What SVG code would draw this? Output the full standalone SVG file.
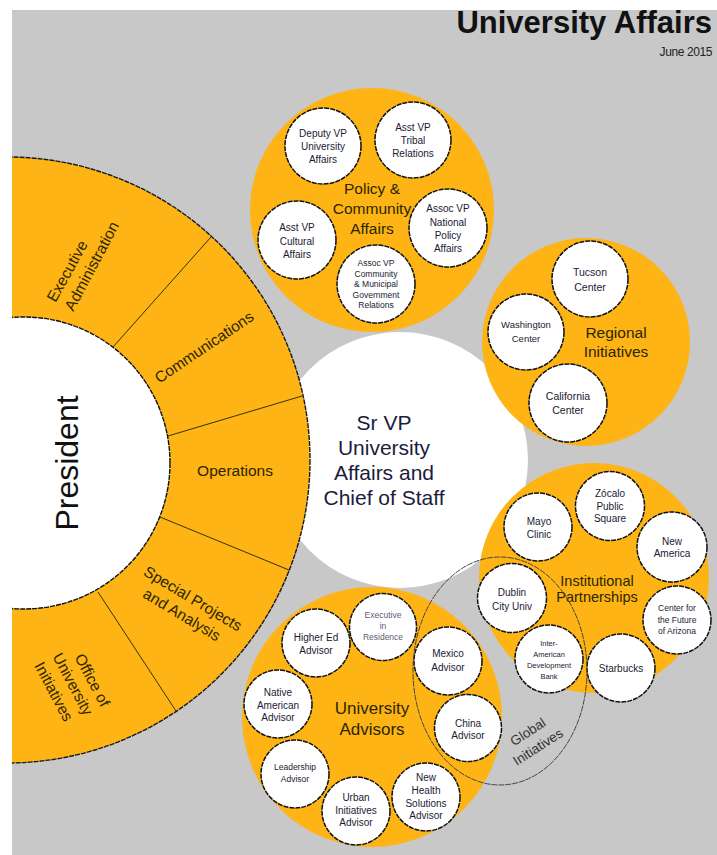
<svg xmlns="http://www.w3.org/2000/svg" width="717" height="855" viewBox="0 0 717 855">
  <defs>
    <clipPath id="page">
      <rect x="12" y="10" width="705" height="845"/>
    </clipPath>
  </defs>
  <style>
    .bg { fill: #c8c8c8; }
    .gold { fill: #fdb414; }
    .ring { fill: #fdb414; stroke: #1a1a1a; stroke-width: 1.4; stroke-dasharray: 5 1; }
    .unit { fill: #ffffff; stroke: #111111; stroke-width: 1.5; stroke-dasharray: 5 1; }
    .div { stroke: #3a3300; stroke-width: 1; fill: none; }
    text { font-family: "Liberation Sans", Arial, sans-serif; text-anchor: middle; }
    .s { font-size: 10px; fill: #1a1a33; }
    .xs { font-size: 8.5px; fill: #1a1a33; }
    .xxs { font-size: 7.5px; fill: #1a1a33; }
    .grey { fill: #606070; }
    .lab { font-size: 15.5px; fill: #2b2600; }
    .seg { font-size: 15.5px; fill: #2b2600; }
  </style>

  <rect x="0" y="0" width="717" height="855" fill="#ffffff"/>
  <rect class="bg" x="12" y="10" width="705" height="845"/>

  <g id="title">
    <text x="712" y="33" style="font-size:31px;font-weight:bold;text-anchor:end;fill:#111">University Affairs</text>
    <text x="712" y="56" style="font-size:12px;text-anchor:end;fill:#222;letter-spacing:-0.4px">June 2015</text>
  </g>

  <g clip-path="url(#page)">
    <!-- Senior VP hub -->
    <g id="sr-vp">
      <circle cx="400" cy="460" r="128" fill="#ffffff"/>
      <text x="384" y="430" style="font-size:21px;fill:#1c1c3c">Sr VP</text>
      <text x="384" y="455" style="font-size:21px;fill:#1c1c3c">University</text>
      <text x="384" y="480" style="font-size:21px;fill:#1c1c3c">Affairs and</text>
      <text x="384" y="505" style="font-size:21px;fill:#1c1c3c">Chief of Staff</text>
    </g>

    <!-- President ring with its offices -->
    <g id="president">
      <circle class="ring" cx="7" cy="460" r="303"/>
      <line class="div" x1="113" y1="347" x2="211" y2="237"/>
      <line class="div" x1="168" y1="436" x2="302" y2="396"/>
      <line class="div" x1="160" y1="517" x2="289" y2="570"/>
      <line class="div" x1="98" y1="592" x2="176" y2="711"/>
      <circle cx="24" cy="463" r="146" fill="#ffffff" stroke="#111" stroke-width="1.4" stroke-dasharray="5 1"/>
      <text transform="translate(67,463) rotate(-90)" y="11" style="font-size:32px;fill:#111">President</text>
      <g id="exec-admin">
        <text class="seg" transform="translate(67,271) rotate(-61)" y="5.5">Executive</text>
        <text class="seg" transform="translate(91.5,266) rotate(-62)" y="5.5">Administration</text>
      </g>
      <g id="communications">
        <text class="seg" transform="translate(204,347) rotate(-34)" y="5.5">Communications</text>
      </g>
      <g id="operations">
        <text class="seg" x="235" y="475.5">Operations</text>
      </g>
      <g id="special-projects">
        <text class="seg" transform="translate(193,598.5) rotate(31)" y="5.5">Special Projects</text>
        <text class="seg" transform="translate(182,614.5) rotate(31)" y="5.5">and Analysis</text>
      </g>
      <g id="univ-initiatives">
        <text class="seg" transform="translate(92.5,680) rotate(62)" y="5.5">Office of</text>
        <text class="seg" transform="translate(73,684) rotate(62)" y="5.5">University</text>
        <text class="seg" transform="translate(54,691.5) rotate(62)" y="5.5">Initiatives</text>
      </g>
    </g>

    <!-- Policy & Community Affairs -->
    <g id="policy">
      <circle class="gold" cx="372" cy="210" r="122"/>
      <text class="lab" x="372" y="194">Policy &amp;</text>
      <text class="lab" x="372" y="214">Community</text>
      <text class="lab" x="372" y="234">Affairs</text>
      <g id="deputy-vp">
        <circle class="unit" cx="323" cy="146" r="38"/>
        <text class="s" x="323" y="137">Deputy VP</text>
        <text class="s" x="323" y="150">University</text>
        <text class="s" x="323" y="163">Affairs</text>
      </g>
      <g id="tribal">
        <circle class="unit" cx="413" cy="140" r="38"/>
        <text class="s" x="413" y="131">Asst VP</text>
        <text class="s" x="413" y="144">Tribal</text>
        <text class="s" x="413" y="157">Relations</text>
      </g>
      <g id="cultural">
        <circle class="unit" cx="297" cy="240" r="39"/>
        <text class="s" x="297" y="231">Asst VP</text>
        <text class="s" x="297" y="245">Cultural</text>
        <text class="s" x="297" y="258">Affairs</text>
      </g>
      <g id="national">
        <circle class="unit" cx="448" cy="228" r="39"/>
        <text class="s" x="448" y="212">Assoc VP</text>
        <text class="s" x="448" y="226">National</text>
        <text class="s" x="448" y="239">Policy</text>
        <text class="s" x="448" y="252">Affairs</text>
      </g>
      <g id="municipal">
        <circle class="unit" cx="376" cy="284" r="39"/>
        <text class="xs" x="376" y="266">Assoc VP</text>
        <text class="xs" x="376" y="276.5">Community</text>
        <text class="xs" x="376" y="287">&amp; Municipal</text>
        <text class="xs" x="376" y="297.5">Government</text>
        <text class="xs" x="376" y="308">Relations</text>
      </g>
    </g>

    <!-- Regional Initiatives -->
    <g id="regional">
      <circle class="gold" cx="586" cy="342" r="104"/>
      <text class="lab" x="616" y="338">Regional</text>
      <text class="lab" x="616" y="357">Initiatives</text>
      <g id="tucson">
        <circle class="unit" cx="590" cy="279" r="38"/>
        <text class="s" x="590" y="276" style="font-size:10.5px">Tucson</text>
        <text class="s" x="590" y="291" style="font-size:10.5px">Center</text>
      </g>
      <g id="washington">
        <circle class="unit" cx="526" cy="332" r="38"/>
        <text class="s" x="526" y="328" style="font-size:9.5px">Washington</text>
        <text class="s" x="526" y="342" style="font-size:9.5px">Center</text>
      </g>
      <g id="california">
        <circle class="unit" cx="568" cy="403" r="39"/>
        <text class="s" x="568" y="400" style="font-size:10.5px">California</text>
        <text class="s" x="568" y="414" style="font-size:10.5px">Center</text>
      </g>
    </g>

    <!-- Institutional Partnerships -->
    <g id="partnerships">
      <circle class="gold" cx="594" cy="578" r="115"/>
      <text class="lab" x="597" y="585.5" style="font-size:14.5px">Institutional</text>
      <text class="lab" x="597" y="602" style="font-size:14.5px">Partnerships</text>
      <g id="mayo">
        <circle class="unit" cx="538" cy="527" r="34"/>
        <text class="s" x="539" y="525">Mayo</text>
        <text class="s" x="539" y="538">Clinic</text>
      </g>
      <g id="zocalo">
        <circle class="unit" cx="610" cy="506" r="34.5"/>
        <text class="s" x="610" y="497">Zócalo</text>
        <text class="s" x="610" y="510">Public</text>
        <text class="s" x="610" y="522">Square</text>
      </g>
      <g id="new-america">
        <circle class="unit" cx="672" cy="547" r="35"/>
        <text class="s" x="672" y="545">New</text>
        <text class="s" x="672" y="557">America</text>
      </g>
      <g id="future-arizona">
        <circle class="unit" cx="677" cy="620" r="34"/>
        <text class="xs" x="677" y="611">Center for</text>
        <text class="xs" x="677" y="623">the Future</text>
        <text class="xs" x="677" y="634">of Arizona</text>
      </g>
      <g id="starbucks">
        <circle class="unit" cx="621" cy="668" r="34"/>
        <text class="s" x="621" y="672">Starbucks</text>
      </g>
      <g id="dublin">
        <circle class="unit" cx="512" cy="598" r="34.5"/>
        <text class="s" x="512" y="596">Dublin</text>
        <text class="s" x="512" y="610">City Univ</text>
      </g>
      <g id="iadb">
        <circle class="unit" cx="549" cy="659" r="34"/>
        <text class="xxs" x="549" y="646">Inter-</text>
        <text class="xxs" x="549" y="657">American</text>
        <text class="xxs" x="549" y="668">Development</text>
        <text class="xxs" x="549" y="679">Bank</text>
      </g>
    </g>

    <!-- University Advisors -->
    <g id="advisors">
      <circle class="gold" cx="372" cy="717" r="130"/>
      <text class="lab" x="372" y="714" style="font-size:17px">University</text>
      <text class="lab" x="372" y="735" style="font-size:17px">Advisors</text>
      <g id="exec-residence">
        <circle class="unit" cx="383" cy="627" r="33.5"/>
        <text class="xs grey" x="383" y="618">Executive</text>
        <text class="xs grey" x="383" y="629">in</text>
        <text class="xs grey" x="383" y="640">Residence</text>
      </g>
      <g id="higher-ed">
        <circle class="unit" cx="316" cy="643" r="34"/>
        <text class="s" x="316" y="641">Higher Ed</text>
        <text class="s" x="316" y="654">Advisor</text>
      </g>
      <g id="mexico">
        <circle class="unit" cx="448" cy="661" r="34"/>
        <text class="s" x="448" y="657">Mexico</text>
        <text class="s" x="448" y="671">Advisor</text>
      </g>
      <g id="native-american">
        <circle class="unit" cx="278" cy="704" r="34"/>
        <text class="s" x="278" y="696">Native</text>
        <text class="s" x="278" y="709">American</text>
        <text class="s" x="278" y="721">Advisor</text>
      </g>
      <g id="china">
        <circle class="unit" cx="468" cy="728" r="33.5"/>
        <text class="s" x="468" y="727">China</text>
        <text class="s" x="468" y="739">Advisor</text>
      </g>
      <g id="leadership">
        <circle class="unit" cx="295" cy="774" r="34"/>
        <text class="xs" x="295" y="770">Leadership</text>
        <text class="xs" x="295" y="782">Advisor</text>
      </g>
      <g id="urban">
        <circle class="unit" cx="356" cy="811" r="34"/>
        <text class="s" x="356" y="801">Urban</text>
        <text class="s" x="356" y="814">Initiatives</text>
        <text class="s" x="356" y="826">Advisor</text>
      </g>
      <g id="new-health">
        <circle class="unit" cx="426" cy="797" r="34"/>
        <text class="s" x="426" y="781">New</text>
        <text class="s" x="426" y="794">Health</text>
        <text class="s" x="426" y="807">Solutions</text>
        <text class="s" x="426" y="819">Advisor</text>
      </g>
    </g>

    <!-- Global Initiatives grouping outline -->
    <g id="global">
      <ellipse cx="500" cy="671" rx="87" ry="114" fill="none" stroke="#444" stroke-width="1" stroke-dasharray="6 1"/>
      <text transform="translate(528,732) rotate(-33)" y="4.5" style="font-size:13.5px;fill:#333">Global</text>
      <text transform="translate(538,747) rotate(-33)" y="4.5" style="font-size:13.5px;fill:#333">Initiatives</text>
    </g>
  </g>
</svg>
